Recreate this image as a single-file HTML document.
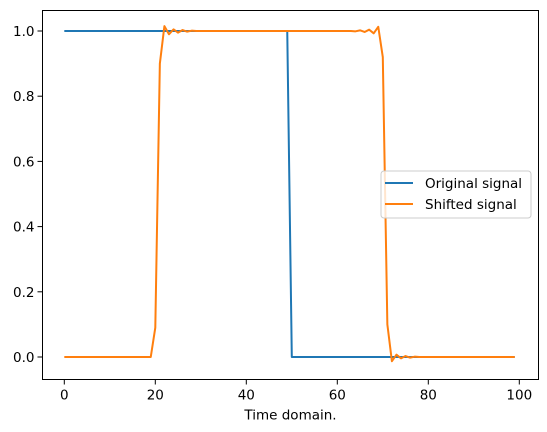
<!DOCTYPE html>
<html><head><meta charset="utf-8"><style>body{margin:0;background:#fff}svg{display:block;font-family:"DejaVu Sans","Liberation Sans",sans-serif}</style></head>
<body>
<svg id="c" width="547" height="432"></svg>
<script>
const xs = Array.from({length:100},(_,i)=>i);
const original = xs.map(i=>i<50?1:0);
const shifted = [0,0,0,0,0,0,0,0,0,0,0,0,0,0,0,0,0,0,0,0,
0.09,0.9,1.015,0.99,1.005,0.995,1.003,0.998,1.001,1,
1,1,1,1,1,1,1,1,1,1,1,1,1,1,1,1,1,1,1,1,
1,1,1,1,1,1,1,1,1,1,1,1,1,1,0.999,1.002,0.997,1.004,0.993,1.013,
0.92,0.1,-0.013,0.007,-0.004,0.003,-0.002,0.001,0,0,
0,0,0,0,0,0,0,0,0,0,0,0,0,0,0,0,0,0,0,0];
const xTicks=[0,20,40,60,80,100];
const yTicks=[0,0.2,0.4,0.6,0.8,1.0];
const X=v=>64.3+v*4.55, Y=v=>357-v*326;
const L=42.5,R=538.5,T=10.5,B=379.5;
const svg=document.getElementById('c');
const ns='http://www.w3.org/2000/svg';
function mk(t,a,p){const e=document.createElementNS(ns,t);for(const k in a)e.setAttribute(k,a[k]);(p||svg).appendChild(e);return e;}
const ax=mk('rect',{x:L,y:T,width:R-L,height:B-T,fill:'none',stroke:'#000','stroke-width':1});


xTicks.forEach(v=>{
 const l=mk('line',{x1:X(v),x2:X(v),y1:B,y2:B+5,stroke:'#000'});
 
 
 const t=mk('text',{x:X(v),y:B+20,'font-size':13.5,'text-anchor':'middle'});t.textContent=v;
 
 
});
yTicks.forEach(v=>{
 const l=mk('line',{x1:L-5,x2:L,y1:Y(v),y2:Y(v),stroke:'#000'});
 
 
 const t=mk('text',{x:L-8,y:Y(v)+5,'font-size':13.5,'text-anchor':'end'});t.textContent=v.toFixed(1);
 
 
});
const xt=mk('text',{x:(L+R)/2,y:B+40,'font-size':13.5,'text-anchor':'middle'});xt.textContent='Time domain.';


function line(arr,c,n){const p=mk('polyline',{points:arr.map((v,i)=>X(xs[i])+','+Y(v)).join(' '),fill:'none',stroke:c,'stroke-width':2,'stroke-linejoin':'round'});
 
 }
line(original,'#1f77b4','original-signal-line');
line(shifted,'#ff7f0e','shifted-signal-line');
const g=mk('g',{});


mk('rect',{x:381,y:171,width:150,height:47,rx:3,fill:'#fff','fill-opacity':0.8,stroke:'#ccc'},g);
[['Original signal','#1f77b4',183],['Shifted signal','#ff7f0e',204]].forEach(([s,c,y])=>{
 mk('line',{x1:385,x2:413,y1:y,y2:y,stroke:c,'stroke-width':2},g);
 const t=mk('text',{x:425,y:y+5,'font-size':13.5},g);t.textContent=s;
 
 
});
</script>
</body></html>
